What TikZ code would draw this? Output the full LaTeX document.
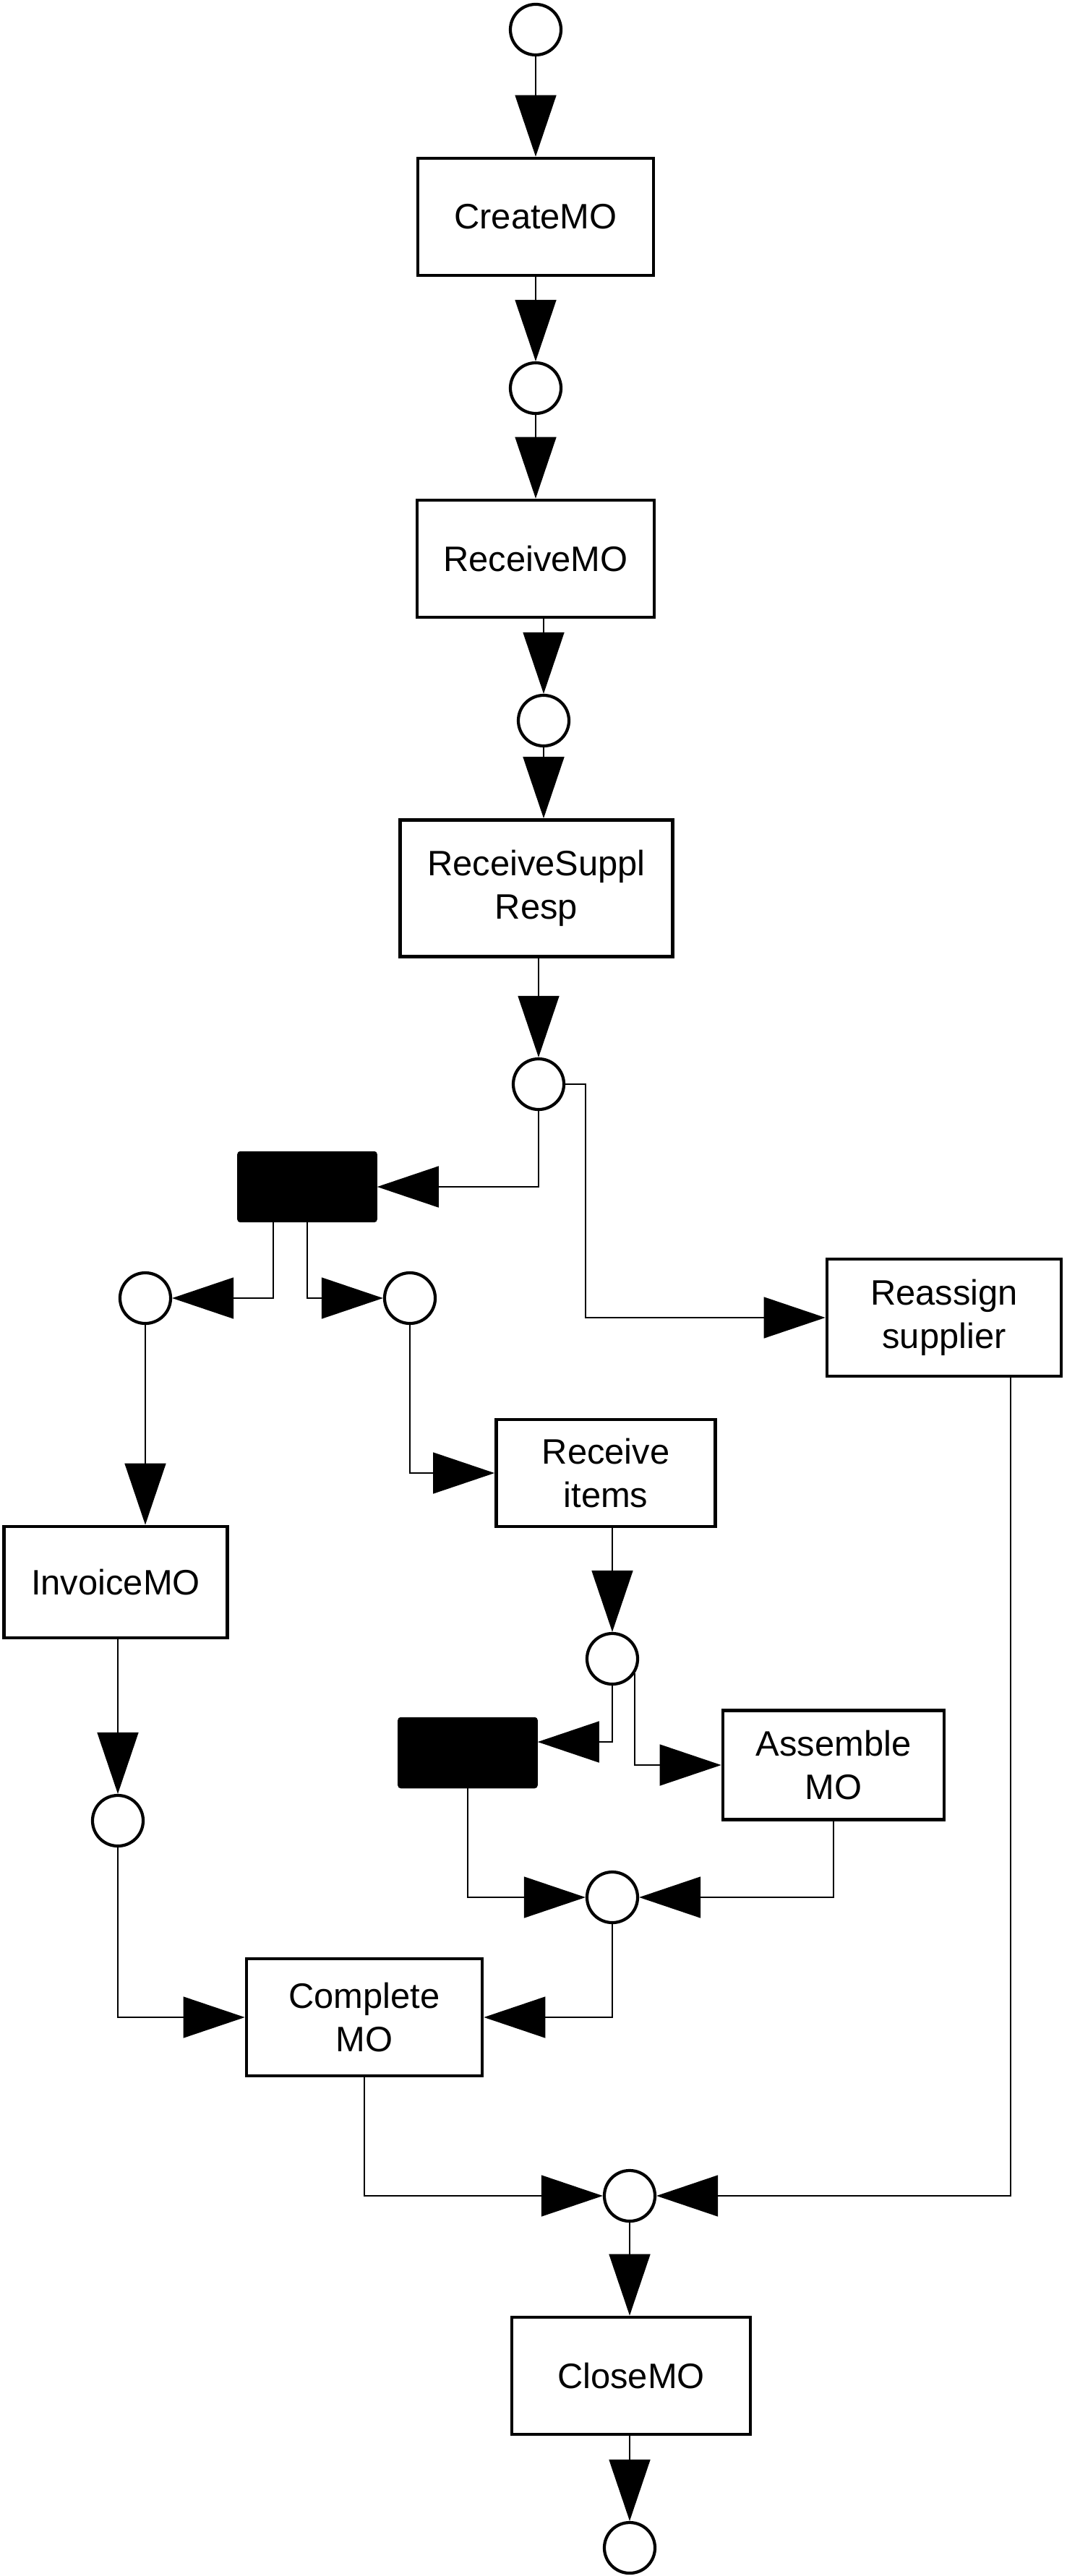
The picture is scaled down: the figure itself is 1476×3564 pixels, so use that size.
\documentclass[tikz,border=0pt]{standalone}
\usepackage{fontspec}
\setmainfont{Liberation Sans}
\usetikzlibrary{arrows.meta}

\begin{document}
\begin{tikzpicture}[x=0.01cm,y=-0.01cm,font=\fontsize{13.9}{17}\selectfont,box/.style={draw,line width=1.3pt,fill=white,align=center,inner sep=0pt,minimum width=3.26cm,minimum height=1.62cm},place/.style={draw,circle,line width=1.2pt,fill=white,inner sep=0pt,minimum size=0.70cm},bar/.style={draw,fill=black,rounded corners=1pt,minimum width=1.92cm,minimum height=0.97cm},arrow/.style={-{Triangle[length=0.85cm,width=0.57cm]},line width=0.45pt}]
\useasboundingbox (0,0) rectangle (1476,3564);
\node[place] (s0) at (741,41) {};
\node[box] (create) at (741,300) {CreateMO};
\node[place] (p1) at (741,537) {};
\node[box,minimum width=3.28cm] (receive) at (741,773) {ReceiveMO};
\node[place] (p2) at (752,997) {};
\node[box,minimum width=3.77cm,minimum height=1.89cm] (resp) at (742,1229) {ReceiveSuppl\\Resp};
\node[place] (p3) at (745,1500) {};
\node[bar] (split1) at (425,1642) {};
\node[place] (p4) at (201,1796) {};
\node[place] (p5) at (567,1796) {};
\node[box,minimum width=3.24cm] (reassign) at (1306,1823) {Reassign\\supplier};
\node[box,minimum width=3.09cm,minimum height=1.54cm] (invoice) at (160,2189) {InvoiceMO};
\node[box,minimum width=3.03cm,minimum height=1.48cm] (items) at (838,2038) {Receive\\items};
\node[place] (p6) at (847,2295) {};
\node[bar] (split2) at (647,2425) {};
\node[box,minimum width=3.06cm,minimum height=1.51cm] (assemble) at (1153,2442) {Assemble\\MO};
\node[place] (p7) at (847,2625) {};
\node[place] (p8) at (163,2519) {};
\node[box] (complete) at (504,2791) {Complete\\MO};
\node[place] (p9) at (871,3038) {};
\node[box,minimum width=3.30cm] (close) at (873,3287) {CloseMO};
\node[place] (stop) at (871,3525) {};
\draw[arrow] (s0)--(create);\draw[arrow] (create)--(p1);\draw[arrow] (p1)--(receive);
\draw[arrow] (p2 |- receive.south)--(p2.north);\draw[arrow] (p2.south)--(p2 |- resp.north);\draw[arrow] (p3 |- resp.south)--(p3.north);
\draw[arrow] (p3.south) |- (split1.east);\draw[arrow] (p3.east) -- ++(0.28cm,0) |- (reassign.west);
\draw[arrow] ([xshift=-0.47cm]split1.south) |- (p4.east);\draw[arrow] (split1.south) |- (p5.west);
\draw[arrow] (p4.south)--(p4 |- invoice.north);\draw[arrow] (p5.south) |- (items.west);
\draw[arrow] (p6 |- items.south)--(p6.north);
\draw[arrow] (p6.south) |- ([yshift=0.15cm]split2.east);\draw[arrow] (p6.-33) |- (assemble.west);
\draw[arrow] (split2.south) |- (p7.west);\draw[arrow] (assemble.south) |- (p7.east);
\draw[arrow] (p8 |- invoice.south)--(p8.north);
\draw[arrow] (p7.south) |- (complete.east);\draw[arrow] (p8.south) |- (complete.west);
\draw[arrow] (complete.south) |- (p9.west);\draw[arrow] ([xshift=0.92cm]reassign.south) |- (p9.east);
\draw[arrow] (p9.south)--(p9 |- close.north);\draw[arrow] (stop |- close.south)--(stop.north);
\end{tikzpicture}
\end{document}
